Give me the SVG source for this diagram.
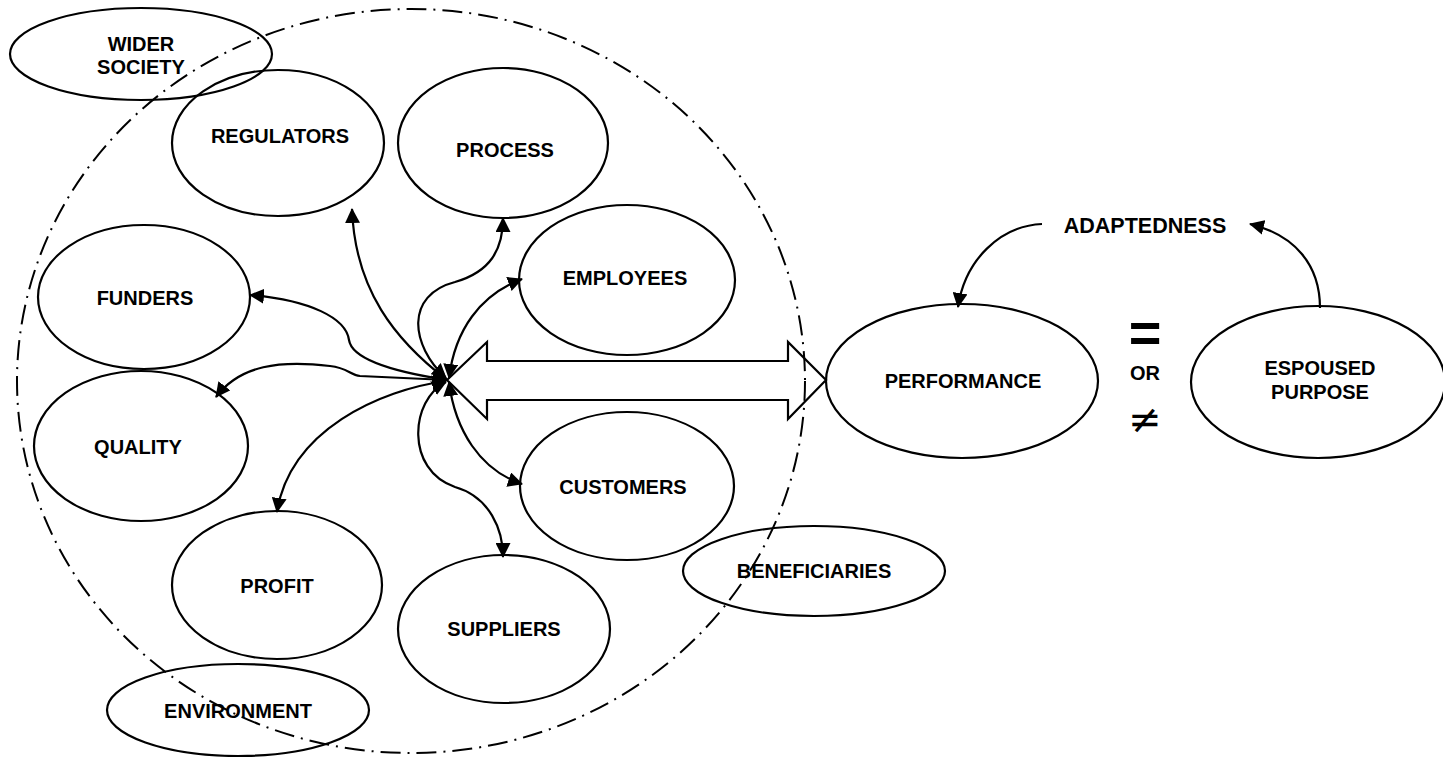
<svg xmlns="http://www.w3.org/2000/svg" width="1443" height="757" viewBox="0 0 1443 757">
<style>
.n{fill:none;stroke:#000;stroke-width:2.2}
.t{font-family:"Liberation Sans",Arial,sans-serif;font-weight:bold;font-size:20px;text-anchor:middle;fill:#000}
.c{fill:none;stroke:#000;stroke-width:2.2}
.a{marker-end:url(#ah)}
.b{marker-start:url(#ah);marker-end:url(#ah)}
</style>
<defs>
<marker id="ah" markerUnits="userSpaceOnUse" markerWidth="15" markerHeight="15" refX="14" refY="7.5" orient="auto-start-reverse" viewBox="0 0 15 15">
<path d="M0,0 L15,7.5 L0,15 z" fill="#000"/>
</marker>
</defs>
<rect width="1443" height="757" fill="#fff"/>
<g id="boundary">
<ellipse cx="411" cy="381" rx="394" ry="372" fill="none" stroke="#000" stroke-width="2" stroke-dasharray="20,7,2,7"/>
</g>
<g id="wider-society"><ellipse class="n" cx="141" cy="54" rx="131" ry="46"/><text class="t" x="141" y="51">WIDER</text><text class="t" x="141" y="74">SOCIETY</text></g>
<g id="regulators"><ellipse class="n" cx="278" cy="143" rx="106" ry="73"/><text class="t" x="280" y="143">REGULATORS</text></g>
<g id="process"><ellipse class="n" cx="503" cy="143" rx="105" ry="75"/><text class="t" x="505" y="157">PROCESS</text></g>
<g id="employees"><ellipse class="n" cx="627" cy="280" rx="108" ry="75"/><text class="t" x="625" y="285">EMPLOYEES</text></g>
<g id="funders"><ellipse class="n" cx="144" cy="297" rx="106" ry="72"/><text class="t" x="145" y="305">FUNDERS</text></g>
<g id="quality"><ellipse class="n" cx="141" cy="446" rx="107" ry="75"/><text class="t" x="138" y="454">QUALITY</text></g>
<g id="profit"><ellipse class="n" cx="277" cy="585" rx="105" ry="74"/><text class="t" x="277" y="593">PROFIT</text></g>
<g id="suppliers"><ellipse class="n" cx="504" cy="629" rx="106" ry="74"/><text class="t" x="504" y="636">SUPPLIERS</text></g>
<g id="customers"><ellipse class="n" cx="627" cy="486" rx="107" ry="74"/><text class="t" x="623" y="494">CUSTOMERS</text></g>
<g id="beneficiaries"><ellipse class="n" cx="814" cy="571" rx="131" ry="45"/><text class="t" x="814" y="578">BENEFICIARIES</text></g>
<g id="environment"><ellipse class="n" cx="238" cy="710" rx="131" ry="46"/><text class="t" x="238" y="718">ENVIRONMENT</text></g>
<g id="performance"><ellipse class="n" cx="962" cy="381" rx="136" ry="77"/><text class="t" x="963" y="388">PERFORMANCE</text></g>
<g id="espoused-purpose"><ellipse class="n" cx="1318" cy="382" rx="127" ry="76"/><text class="t" x="1320" y="375">ESPOUSED</text><text class="t" x="1320" y="399">PURPOSE</text></g>
<g id="adaptedness"><text class="t" x="1145" y="233" style="font-size:21.5px">ADAPTEDNESS</text></g>
<g id="relation">
<text class="t" x="1145" y="352" style="font-size:56px">=</text>
<text class="t" x="1145" y="380">OR</text>
<text x="1145" y="433" style="font-family:'DejaVu Sans','Liberation Sans',sans-serif;font-size:40px;text-anchor:middle">≠</text>
</g>
<g id="connectors">
<path class="c" d="M447,380 L487,342 L487,361 L788,361 L788,342 L826,380 L788,419 L788,400 L487,400 L487,419 Z"/>
<path class="c b" d="M447,380 C395,340 355,290 352,209"/>
<path class="c b" d="M446,378 C410,345 405,295 455,282 C490,272 503,250 503,218"/>
<path class="c b" d="M449,378 C455,330 480,295 522,279"/>
<path class="c b" d="M447,380 C395,372 352,360 349,340 C346,318 310,300 250,295"/>
<path class="c b" d="M447,380 L360,376 C350,375 348,368 330,366 C280,360 240,365 216,397"/>
<path class="c b" d="M446,381 C380,390 290,430 277,512"/>
<path class="c b" d="M446,382 C410,400 405,470 455,487 C490,497 503,530 503,557"/>
<path class="c b" d="M449,382 C455,430 480,470 522,484"/>
<path class="c a" d="M1042,224 C1000,226 965,260 958,307"/>
<path class="c a" d="M1320,308 C1320,265 1295,235 1250,224"/>
</g>
</svg>
